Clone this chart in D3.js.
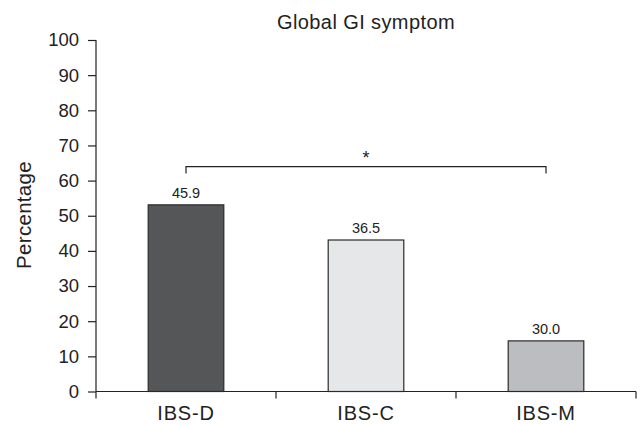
<!DOCTYPE html>
<html><head><meta charset="utf-8">
<script src="https://cdn.jsdelivr.net/npm/d3@7"></script>
<style>
body{margin:0;background:#fff;}
text{font-family:"Liberation Sans",Arial,sans-serif;fill:#222;}
</style></head>
<body><svg id="c" width="640" height="425"></svg>
<script>
const categories = ["IBS-D","IBS-C","IBS-M"];
const barHeights = [53.1, 43.1, 14.4];
const valueLabels = ["45.9","36.5","30.0"];
const barColors = ["#555657","#e6e7e9","#bcbdc0"];
const yTicks = [0,10,20,30,40,50,60,70,80,90,100];
const bracket = {from:"IBS-D", to:"IBS-M", level:64, drop:2, label:"*"};

const svg = d3.select("#c");
const m = {l:96, r:4, t:40, b:33.5};
const W = 640, H = 425;
const x = d3.scaleBand().domain(categories).range([m.l, W-m.r]).paddingInner(0.58).paddingOuter(0.29);
const y = d3.scaleLinear().domain([0,100]).range([H-m.b, m.t]);

// y axis
const ya = svg.append("g").attr("transform",`translate(${m.l},0)`)
  .call(d3.axisLeft(y).tickValues(yTicks).tickSize(8).tickPadding(9));
ya.selectAll("path,line").attr("stroke","#222").attr("stroke-width",1.2);
ya.select(".domain").attr("d",`M0,${y(100)}V${y(0)}`);
ya.selectAll("text").style("font-size","18.5px").attr("fill","#222");

// x axis
const xa = svg.append("g").attr("transform",`translate(0,${y(0)})`);
xa.append("line").attr("x1",m.l).attr("x2",W-m.r).attr("stroke","#222").attr("stroke-width",1.2);
const bounds = d3.range(categories.length+1).map(i => m.l + i*(W-m.r-m.l)/categories.length);
xa.selectAll(".tk").data(bounds).join("line")
  .attr("x1",d=>d).attr("x2",d=>d).attr("y1",0).attr("y2",7).attr("stroke","#222").attr("stroke-width",1.2);
xa.selectAll(".lb").data(categories).join("text")
  .attr("x",d=>x(d)+x.bandwidth()/2).attr("y",28.5).attr("text-anchor","middle")
  .style("font-size","20px").style("letter-spacing","0.8px").text(d=>d);

// bars
svg.selectAll(".bar").data(categories).join("rect")
  .attr("x",d=>x(d)).attr("width",x.bandwidth())
  .attr("y",(d,i)=>y(barHeights[i])).attr("height",(d,i)=>y(0)-y(barHeights[i]))
  .attr("fill",(d,i)=>barColors[i]).attr("stroke","#2a2a2a").attr("stroke-width",1.2);

svg.selectAll(".vl").data(categories).join("text")
  .attr("x",d=>x(d)+x.bandwidth()/2).attr("y",(d,i)=>y(barHeights[i])-7)
  .attr("text-anchor","middle").style("font-size","14.5px").text((d,i)=>valueLabels[i]);

// bracket
const bx1 = x(bracket.from)+x.bandwidth()/2, bx2 = x(bracket.to)+x.bandwidth()/2;
const by = y(bracket.level), byd = y(bracket.level-bracket.drop);
svg.append("path").attr("d",`M${bx1},${byd}V${by}H${bx2}V${byd}`)
  .attr("fill","none").attr("stroke","#222").attr("stroke-width",1.2);
svg.append("text").attr("x",(bx1+bx2)/2).attr("y",by-3).attr("text-anchor","middle")
  .style("font-size","18px").text(bracket.label);

// title
svg.append("text").attr("x",366).attr("y",29).attr("text-anchor","middle")
  .style("font-size","20px").style("letter-spacing","0.4px").text("Global GI symptom");

// y label
svg.append("text").attr("transform",`translate(31,215) rotate(-90)`)
  .attr("text-anchor","middle").style("font-size","20.5px").style("letter-spacing","0.3px").text("Percentage");
</script></body></html>
